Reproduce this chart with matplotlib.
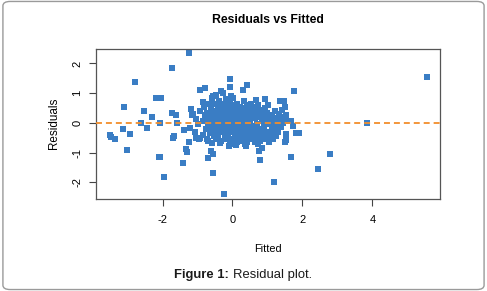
import matplotlib
matplotlib.use("Agg")
import matplotlib.pyplot as plt
from matplotlib.patches import FancyBboxPatch

plt.rcParams['font.family'] = ['Liberation Sans', 'DejaVu Sans']

# outlying points (fitted, residual)
fitted_outer = [-1.25, -1.73, -2.80, -3.10, -2.20, -2.05, -2.54, -2.31, -2.61, -2.45,
                -2.06, -3.51, -3.46, -3.37, -3.13, -2.94, -3.01, -2.10, -2.07, -1.95,
                -1.74, -1.62, -1.58, -1.70, -1.67, -1.40, -1.41, -1.33, -1.31, -1.24,
                -1.20, -1.16, -1.21, -1.04, -0.93, -0.94, -0.80, -0.85, -0.69, -0.56,
                -0.23, -0.60, -0.56, -0.07, -0.07, 0.29, 0.42, -0.32, -0.57, -0.05,
                0.94, 0.67, 1.76, 1.36, 1.48, 1.50, 1.68, 1.74, 1.82, 1.90,
                1.52, 1.52, 1.50, 1.68, 0.79, 1.18, 2.45, 2.79, 3.85, 5.56,
                -0.10, 0.10, 0.39, 0.75]
resid_outer = [2.34, 1.85, 1.36, 0.55, 0.85, 0.85, 0.39, 0.19, 0.00, -0.17,
               0.00, -0.39, -0.46, -0.55, -0.22, -0.38, -0.91, -1.13, -1.16, -1.83,
               0.35, 0.26, 0.00, -0.51, -0.44, -0.24, -1.36, -0.89, -0.97, -0.64,
               0.46, 0.25, -0.16, -0.52, -0.52, 1.11, 1.19, 0.69, -1.19, -1.67,
               -2.38, -0.93, -1.04, 1.49, 1.22, 1.11, 1.27, 1.06, 0.92, 0.91,
               0.80, 0.78, 1.08, 0.74, 0.74, 0.52, 0.08, -0.12, -0.33, -0.33,
               -0.38, -0.57, -0.63, -1.13, -1.26, -1.99, -1.55, -1.06, 0.00, 1.54,
               -0.76, -0.74, -0.76, -0.94]

# dense central cloud
fitted_core = [-1.12, -1.05, -0.98, -1.08, -0.92, -0.95,
               -0.82, -0.78, -0.85, -0.76, -0.83, -0.74,
               -0.68, -0.72, -0.66, -0.70, -0.64, -0.69,
               -0.58, -0.61, -0.55, -0.60, -0.57, -0.62, -0.54, -0.59,
               -0.48, -0.52, -0.45, -0.50, -0.47, -0.43, -0.51, -0.46,
               -0.38, -0.41, -0.36, -0.40, -0.35, -0.39, -0.33, -0.42, -0.37,
               -0.28, -0.31, -0.26, -0.30, -0.24, -0.29, -0.27, -0.22, -0.32,
               -0.18, -0.21, -0.15, -0.19, -0.13, -0.17, -0.20, -0.14, -0.18,
               -0.08, -0.11, -0.05, -0.09, -0.04, -0.10, -0.06, -0.12, -0.07,
               0.02, -0.01, 0.04, 0.00, 0.05, -0.02, 0.03, 0.06, 0.01, 0.04,
               0.12, 0.09, 0.14, 0.10, 0.15, 0.11, 0.16, 0.08, 0.13,
               0.22, 0.19, 0.24, 0.20, 0.25, 0.18, 0.23, 0.21,
               0.32, 0.29, 0.34, 0.30, 0.35, 0.28, 0.33, 0.31, 0.36,
               0.42, 0.39, 0.44, 0.40, 0.45, 0.38, 0.43, 0.41,
               0.52, 0.49, 0.54, 0.50, 0.55, 0.48, 0.53,
               0.62, 0.59, 0.64, 0.60, 0.65, 0.58, 0.63,
               0.72, 0.69, 0.74, 0.70, 0.75, 0.68, 0.73,
               0.82, 0.79, 0.84, 0.80, 0.85, 0.78, 0.83,
               0.92, 0.89, 0.94, 0.90, 0.95, 0.88,
               1.02, 0.99, 1.04, 1.00, 1.05, 0.98, 1.03,
               1.12, 1.09, 1.14, 1.10, 1.15,
               1.22, 1.19, 1.24, 1.20, 1.25,
               1.32, 1.29, 1.34, 1.30,
               1.42, 1.39, 1.44, 1.40,
               1.52, 1.49]
resid_core = [0.30, 0.12, -0.05, -0.30, 0.40, -0.55,
              0.55, 0.25, 0.05, -0.20, -0.42, -0.55,
              0.65, 0.35, 0.10, -0.10, -0.35, -0.62,
              0.85, 0.50, 0.30, 0.15, -0.05, -0.25, -0.45, -0.66,
              0.95, 0.62, 0.40, 0.20, 0.00, -0.20, -0.40, -0.55,
              0.75, 0.55, 0.35, 0.20, 0.05, -0.15, -0.30, -0.50, -0.66,
              1.00, 0.65, 0.45, 0.25, 0.10, -0.05, -0.25, -0.40, -0.60,
              0.80, 0.60, 0.40, 0.30, 0.15, 0.00, -0.20, -0.35, -0.55,
              0.70, 0.50, 0.35, 0.20, 0.05, -0.10, -0.30, -0.45, -0.60,
              0.85, 0.60, 0.45, 0.25, 0.10, -0.05, -0.20, -0.40, -0.55, -0.70,
              0.65, 0.50, 0.30, 0.15, 0.00, -0.15, -0.35, -0.50, -0.65,
              0.55, 0.40, 0.20, 0.05, -0.10, -0.30, -0.45, -0.60,
              0.75, 0.50, 0.35, 0.15, -0.05, -0.25, -0.40, -0.55, -0.70,
              0.60, 0.40, 0.25, 0.05, -0.15, -0.35, -0.50, -0.65,
              0.65, 0.45, 0.20, 0.00, -0.20, -0.40, -0.55,
              0.55, 0.35, 0.15, -0.10, -0.30, -0.50, -0.65,
              0.60, 0.40, 0.20, -0.05, -0.25, -0.45, -0.70,
              0.45, 0.25, 0.05, -0.20, -0.40, -0.60, -0.85,
              0.50, 0.30, 0.10, -0.15, -0.35, -0.55,
              0.60, 0.35, 0.15, -0.05, -0.30, -0.50, -0.65,
              0.25, 0.05, -0.15, -0.35, -0.55,
              0.40, 0.15, -0.05, -0.25, -0.45,
              0.30, 0.10, -0.10, -0.30,
              0.45, 0.20, 0.00, -0.15,
              0.25, 0.05]

x_ticks = [-2, 0, 2, 4]
y_ticks = [-2, -1, 0, 1, 2]

fig = plt.figure(figsize=(4.87, 2.91), dpi=100)
ax = fig.add_axes([0.198, 0.315, 0.706, 0.518])

blue = '#3A7DC4'
ax.scatter(fitted_core + fitted_outer, resid_core + resid_outer, marker='s', s=21,
           color=blue, linewidths=0, zorder=2)
ax.axhline(0, color='#F28E2B', lw=1.3, dashes=(3.3, 2.2), zorder=3)

ax.set_xlim(-3.89, 5.94)
ax.set_ylim(-2.57, 2.50)
ax.set_xticks(x_ticks)
ax.set_yticks(y_ticks)
ax.set_xticklabels([str(t) for t in x_ticks])
ax.set_yticklabels([str(t) for t in y_ticks], rotation=90, va='center')
ax.tick_params(direction='out', length=5, width=0.8, labelsize=8, color='#444444')
ax.tick_params(axis='x', pad=6.5)
ax.tick_params(axis='y', pad=5)
for s in ax.spines.values():
    s.set_color('#555555')
    s.set_linewidth(0.9)

fig.text(0.551, 0.931, 'Residuals vs Fitted', ha='center', va='center',
         fontsize=8.8, fontweight='bold')
fig.text(0.551, 0.144, 'Fitted', ha='center', va='center', fontsize=7.8)
fig.text(0.111, 0.577, 'Residuals', ha='center', va='center', rotation=90, fontsize=8.4)

# caption: bold "Figure 1:" + regular rest
t1 = fig.text(0.357, 0.055, 'Figure 1:', ha='left', va='center', fontsize=9.4,
              fontweight='bold', color='#1a1a1a')
fig.canvas.draw()
bb = t1.get_window_extent()
x1 = bb.x1 / fig.bbox.width
fig.text(x1 + 0.008, 0.055, 'Residual plot.', ha='left', va='center', fontsize=9.4,
         color='#1a1a1a')

border = FancyBboxPatch((0.006, 0.005), 0.988, 0.99, boxstyle='round,pad=0,rounding_size=0.015',
                        transform=fig.transFigure, fc='none', ec='#9a9a9a', lw=1.0)
fig.patches.append(border)

fig.savefig('out.png', dpi=100)
